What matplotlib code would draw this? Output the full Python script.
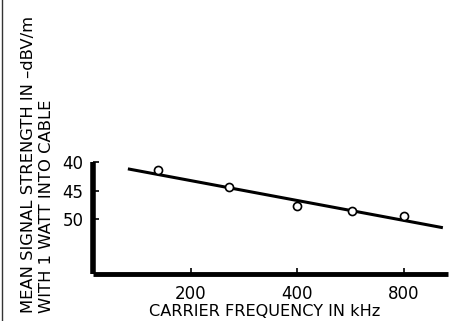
import matplotlib
matplotlib.use("Agg")
import matplotlib.pyplot as plt
from matplotlib.lines import Line2D

# Measured mean signal strength (-dBV/m, 1 W into cable) vs carrier frequency
freq_khz = [162, 257, 400, 571, 800]
signal_dbv = [41.4, 44.4, 47.7, 48.5, 49.5]

# Fitted trend line endpoints
fit_freq = [133, 1032]
fit_dbv = [41.2, 51.5]

x_ticks = [200, 400, 800]
x_tick_labels = ["200", "400", "800"]
y_ticks = [40, 45, 50]
y_tick_labels = ["40", "45", "50"]

plt.rcParams["font.family"] = ["DejaVu Sans"]

W, H = 457, 321
fig = plt.figure(figsize=(W / 100, H / 100), dpi=100)
fig.patch.set_facecolor("white")

ax = fig.add_axes([93 / W, 47 / H, (448 - 93) / W, (274 - 162) / H])
ax.set_xscale("log")
ax.set_xlim(106, 1067)
ax.set_ylim(59.6, 40)

ax.plot(fit_freq, fit_dbv, color="black", lw=2.2, solid_capstyle="butt", zorder=2)
ax.plot(freq_khz, signal_dbv, linestyle="none", marker="o", ms=5.8,
        mfc="white", mec="black", mew=1.2, zorder=3)

for side in ("top", "right"):
    ax.spines[side].set_visible(False)
ax.spines["left"].set_linewidth(4.0)
ax.spines["bottom"].set_linewidth(3.5)
ax.spines["left"].set_capstyle("butt")
ax.spines["bottom"].set_capstyle("butt")

ax.set_xticks(x_ticks)
ax.set_xticklabels(x_tick_labels)
ax.xaxis.set_minor_locator(matplotlib.ticker.NullLocator())
ax.set_yticks(y_ticks)
ax.set_yticklabels(y_tick_labels)

ax.tick_params(axis="x", direction="in", length=4, width=1.2, pad=8, labelsize=12)
ax.tick_params(axis="y", direction="in", length=4, width=1.2, pad=7, labelsize=12)

fig.text(265 / W, (H - 312) / H, "CARRIER FREQUENCY IN kHz",
         ha="center", va="center", fontsize=11.6)
fig.text(29 / W, (H - 313) / H, "MEAN SIGNAL STRENGTH IN \u2013dBV/m",
         rotation=90, ha="center", va="bottom", fontsize=11.8)
fig.text(47 / W, (H - 313) / H, "WITH 1 WATT INTO CABLE",
         rotation=90, ha="center", va="bottom", fontsize=11.8)

# thin page border along the left edge
fig.add_artist(Line2D([2 / W, 2 / W], [0, 1], transform=fig.transFigure,
                      color="#333333", lw=1.0))

fig.savefig("out.png", dpi=100, facecolor="white")
